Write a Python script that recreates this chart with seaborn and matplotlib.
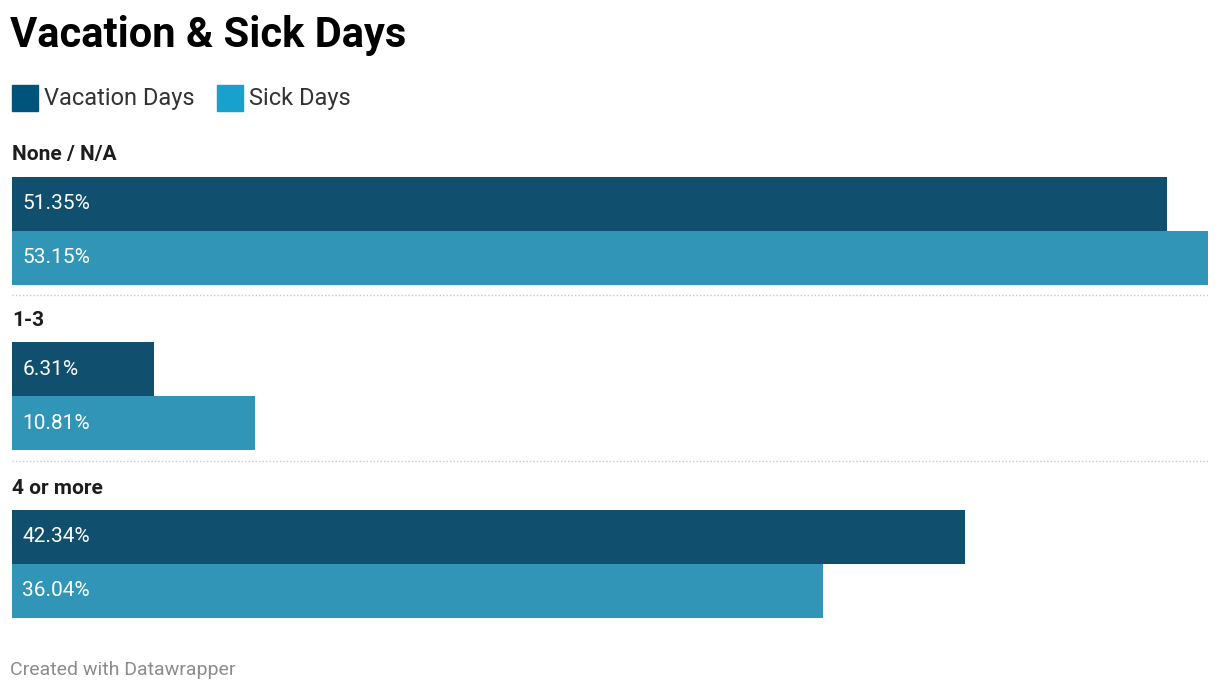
import matplotlib
matplotlib.use("Agg")
import matplotlib.pyplot as plt
import seaborn as sns
import pandas as pd

categories = ["None / N/A", "1-3", "4 or more"]
series = ["Vacation Days", "Sick Days"]
vacation = [51.35, 6.31, 42.34]
sick = [53.15, 10.81, 36.04]
colors = {"Vacation Days": "#00547c", "Sick Days": "#19a1cd"}

W, H = 1220, 694
sns.set_theme(style="white")
plt.rcParams["font.family"] = ["Roboto", "DejaVu Sans"]

fig = plt.figure(figsize=(W / 100, H / 100), dpi=100)
ax = fig.add_axes([12 / W, 0, (1208 - 12) / W, 1])

group_centers = [230.5, 396, 564]
bar_h = 54
rows = []
for i, c in enumerate(categories):
    rows.append(dict(series="Vacation Days", val=vacation[i], pos=group_centers[i] - bar_h / 2))
    rows.append(dict(series="Sick Days", val=sick[i], pos=group_centers[i] + bar_h / 2))
df = pd.DataFrame(rows)

sns.barplot(data=df, x="val", y="pos", hue="series", orient="h", native_scale=True,
            dodge=False, width=1.0, palette=colors, linewidth=0, legend=False, ax=ax,
            hue_order=series)
ax.set_xlim(0, max(sick + vacation))
ax.set_ylim(H, 0)
ax.axis("off")

for _, r in df.iterrows():
    ax.text(0.45, r.pos, f"{r.val:.2f}%", color="white", fontsize=15, va="center", ha="left")

for i, c in enumerate(categories):
    ax.text(0, group_centers[i] - bar_h - 22, c, fontsize=15, fontweight="bold",
            color="#1d1d1d", va="center", ha="left")
for y in [295, 461]:
    ax.plot([0, max(sick + vacation)], [y, y], color="#c8c8c8", lw=1, ls=(0, (1, 1.5)))

fig.text(10 / W, 1 - 36 / H, "Vacation & Sick Days", fontsize=30, fontweight="bold",
         color="#000000", va="center", ha="left")
for x0, name in [(12, "Vacation Days"), (217, "Sick Days")]:
    fig.patches.append(plt.Rectangle((x0 / W, 1 - 111 / H), 26 / W, 26 / H,
                                     transform=fig.transFigure, color=colors[name]))
    fig.text((x0 + 32) / W, 1 - 98 / H, name, fontsize=17, color="#333333",
             va="center", ha="left")
fig.text(10 / W, 1 - 670 / H, "Created with Datawrapper", fontsize=14,
         color="#8c8c8c", va="center", ha="left")

fig.savefig("out.png", dpi=100)
